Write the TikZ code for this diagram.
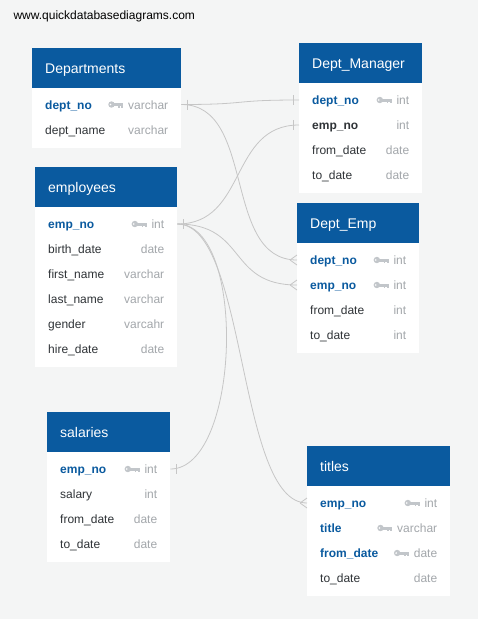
\documentclass[tikz,border=0pt]{standalone}
\usepackage{fontspec}
\setmainfont{Liberation Sans}
\usepackage{xcolor}
\usepackage{tikz}
\usetikzlibrary{positioning}

\definecolor{qdblue}{HTML}{0A5A9F}
\definecolor{qdbg}{HTML}{F4F5F5}
\definecolor{qdtext}{HTML}{2F3337}
\definecolor{qdtype}{HTML}{A3A7AB}
\definecolor{qdkey}{HTML}{C2C6CA}
\definecolor{qdline}{HTML}{C6C6C6}

\begin{document}
\begin{tikzpicture}[x=1pt, y=-1pt, font=\fontsize{12}{14}\selectfont,
    head/.style={fill=qdblue, text=white, anchor=north west, minimum height=40pt,
      inner xsep=13pt, inner ysep=0pt, align=left, text height=12pt, text depth=2pt,
      font=\fontsize{14}{17}\selectfont},
    row/.style={anchor=west, inner xsep=13pt, inner ysep=0pt, align=left,
      text height=11pt, text depth=2pt, text=qdtext},
    pkrow/.style={row, text=qdblue, font=\fontsize{12}{14}\selectfont\bfseries},
    fkrow/.style={row, font=\fontsize{12}{14}\selectfont\bfseries},
    type/.style={anchor=east, inner sep=0pt, text height=11pt, text depth=2pt, text=qdtype},
    rel/.style={draw=qdline, line width=0.8pt},
    keyicon/.pic={
      \fill[qdkey] (-12,0) circle (3.2);
      \fill[qdkey] (-10,-1.5) rectangle (0,1.5);
      \fill[qdkey] (-5,0) rectangle (-3.4,3.2);
      \fill[qdkey] (-2,0) rectangle (0,3.2);
      \fill[white] (-13,0) circle (0.9);
    }]
    \fill[qdbg] (0,0) rectangle (478,619);
    \node[anchor=west, text=black] (url) at (10,16) {www.quickdatabasediagrams.com};

    % Departments
    \fill[white] (32,88) rectangle (181,148);
    \node[head, text width=123] (dep) at (32,48) {Departments};
    \node[pkrow, text width=123] (dep-no) at (32,104.5) {dept\_no};
    \node[type] (dep-no-t) at ([xshift=-13pt]dep-no.east) {varchar};
    \pic at ([xshift=-4.5pt]dep-no-t.west) {keyicon};
    \node[row, text width=123] (dep-name) at (32,129.5) {dept\_name};
    \node[type] (dep-name-t) at ([xshift=-13pt]dep-name.east) {varchar};

    % Dept_Manager
    \fill[white] (299,83) rectangle (422,193);
    \node[head, text width=97] (dm) at (299,43) {Dept\_Manager};
    \node[pkrow, text width=97] (dm-dno) at (299,100) {dept\_no};
    \node[type] (dm-dno-t) at ([xshift=-13pt]dm-dno.east) {int};
    \pic at ([xshift=-4.5pt]dm-dno-t.west) {keyicon};
    \node[fkrow, text width=97] (dm-eno) at (299,125) {emp\_no};
    \node[type] (dm-eno-t) at ([xshift=-13pt]dm-eno.east) {int};
    \node[row, text width=97] (dm-from) at (299,150) {from\_date};
    \node[type] (dm-from-t) at ([xshift=-13pt]dm-from.east) {date};
    \node[row, text width=97] (dm-to) at (299,175) {to\_date};
    \node[type] (dm-to-t) at ([xshift=-13pt]dm-to.east) {date};

    % employees
    \fill[white] (35,207) rectangle (177,367);
    \node[head, text width=116] (emp) at (35,167) {employees};
    \node[pkrow, text width=116] (emp-no) at (35,224) {emp\_no};
    \node[type] (emp-no-t) at ([xshift=-13pt]emp-no.east) {int};
    \pic at ([xshift=-4.5pt]emp-no-t.west) {keyicon};
    \node[row, text width=116] (emp-birth) at (35,249) {birth\_date};
    \node[type] (emp-birth-t) at ([xshift=-13pt]emp-birth.east) {date};
    \node[row, text width=116] (emp-first) at (35,274) {first\_name};
    \node[type] (emp-first-t) at ([xshift=-13pt]emp-first.east) {varchar};
    \node[row, text width=116] (emp-last) at (35,299) {last\_name};
    \node[type] (emp-last-t) at ([xshift=-13pt]emp-last.east) {varchar};
    \node[row, text width=116] (emp-gender) at (35,324) {gender};
    \node[type] (emp-gender-t) at ([xshift=-13pt]emp-gender.east) {varcahr};
    \node[row, text width=116] (emp-hire) at (35,349) {hire\_date};
    \node[type] (emp-hire-t) at ([xshift=-13pt]emp-hire.east) {date};

    % Dept_Emp
    \fill[white] (297,243) rectangle (419,353);
    \node[head, text width=96] (de) at (297,203) {Dept\_Emp};
    \node[pkrow, text width=96] (de-dno) at (297,260) {dept\_no};
    \node[type] (de-dno-t) at ([xshift=-13pt]de-dno.east) {int};
    \pic at ([xshift=-4.5pt]de-dno-t.west) {keyicon};
    \node[pkrow, text width=96] (de-eno) at (297,285) {emp\_no};
    \node[type] (de-eno-t) at ([xshift=-13pt]de-eno.east) {int};
    \pic at ([xshift=-4.5pt]de-eno-t.west) {keyicon};
    \node[row, text width=96] (de-from) at (297,310) {from\_date};
    \node[type] (de-from-t) at ([xshift=-13pt]de-from.east) {int};
    \node[row, text width=96] (de-to) at (297,335) {to\_date};
    \node[type] (de-to-t) at ([xshift=-13pt]de-to.east) {int};

    % salaries
    \fill[white] (47,452) rectangle (170,562);
    \node[head, text width=97] (sal) at (47,412) {salaries};
    \node[pkrow, text width=97] (sal-no) at (47,469) {emp\_no};
    \node[type] (sal-no-t) at ([xshift=-13pt]sal-no.east) {int};
    \pic at ([xshift=-4.5pt]sal-no-t.west) {keyicon};
    \node[row, text width=97] (sal-amt) at (47,494) {salary};
    \node[type] (sal-amt-t) at ([xshift=-13pt]sal-amt.east) {int};
    \node[row, text width=97] (sal-from) at (47,519) {from\_date};
    \node[type] (sal-from-t) at ([xshift=-13pt]sal-from.east) {date};
    \node[row, text width=97] (sal-to) at (47,544) {to\_date};
    \node[type] (sal-to-t) at ([xshift=-13pt]sal-to.east) {date};

    % titles
    \fill[white] (307,486) rectangle (450,596);
    \node[head, text width=117] (tit) at (307,446) {titles};
    \node[pkrow, text width=117] (tit-no) at (307,503) {emp\_no};
    \node[type] (tit-no-t) at ([xshift=-13pt]tit-no.east) {int};
    \pic at ([xshift=-4.5pt]tit-no-t.west) {keyicon};
    \node[pkrow, text width=117] (tit-title) at (307,528) {title};
    \node[type] (tit-title-t) at ([xshift=-13pt]tit-title.east) {varchar};
    \pic at ([xshift=-4.5pt]tit-title-t.west) {keyicon};
    \node[pkrow, text width=117] (tit-from) at (307,553) {from\_date};
    \node[type] (tit-from-t) at ([xshift=-13pt]tit-from.east) {date};
    \pic at ([xshift=-4.5pt]tit-from-t.west) {keyicon};
    \node[row, text width=117] (tit-to) at (307,578) {to\_date};
    \node[type] (tit-to-t) at ([xshift=-13pt]tit-to.east) {date};

    % Relationships
    \draw[rel] (dep-no.east) .. controls +(70,0) and +(-70,0) .. (dm-dno.west);
    \draw[rel] (dep-no.east) .. controls +(75,0) and +(-75,0) .. (de-dno.west);
    \draw[rel] (emp-no.east) .. controls +(70,0) and +(-70,0) .. (dm-eno.west);
    \draw[rel] (emp-no.east) .. controls +(70,0) and +(-70,0) .. (de-eno.west);
    \draw[rel] (emp-no.east) .. controls +(70,0) and +(70,0) .. (sal-no.east);
    \draw[rel] (emp-no.east) .. controls +(70,0) and +(-70,0) .. (tit-no.west);

    % One marks
    \draw[rel] ([xshift=6pt]dep-no.east) ++(0,-5) -- ++(0,10);
    \draw[rel] ([xshift=6pt]emp-no.east) ++(0,-5) -- ++(0,10);
    \draw[rel] ([xshift=-6pt]dm-dno.west) ++(0,-5) -- ++(0,10);
    \draw[rel] ([xshift=-6pt]dm-eno.west) ++(0,-5) -- ++(0,10);
    \draw[rel] ([xshift=6pt]sal-no.east) ++(0,-5) -- ++(0,10);

    % Many marks
    \draw[rel] ([xshift=-7pt]de-dno.west) -- ++(7,-5) ([xshift=-7pt]de-dno.west) -- ++(7,5);
    \draw[rel] ([xshift=-7pt]de-eno.west) -- ++(7,-5) ([xshift=-7pt]de-eno.west) -- ++(7,5);
    \draw[rel] ([xshift=-7pt]tit-no.west) -- ++(7,-5) ([xshift=-7pt]tit-no.west) -- ++(7,5);
\end{tikzpicture}
\end{document}
